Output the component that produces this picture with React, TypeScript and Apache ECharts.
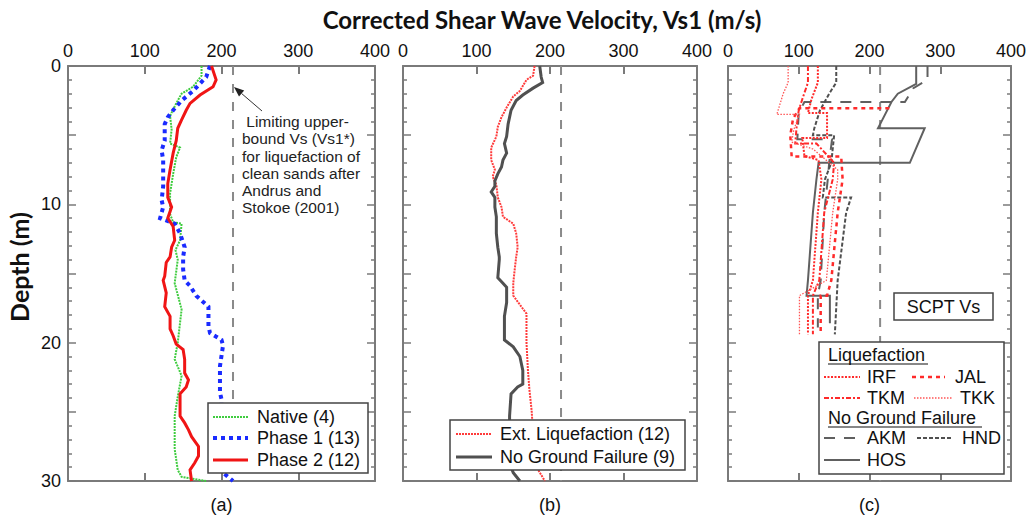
import React, { useEffect, useRef } from 'react';
import * as echarts from 'echarts';

// ---------- data ----------
const X_MIN = 0;
const X_MAX = 400;
const X_STEP = 100;
const DEPTH_MIN = 0;
const DEPTH_MAX = 30;
const DEPTH_STEP = 5;
const LIMIT_VS = 215; // limiting upper-bound Vs1*

// panel (a): [Vs1 (m/s), depth (m)]
const NATIVE: number[][] = [[174,0],[174,0.7],[163,1.5],[148,2.0],[141,2.7],[133,3.6],[135,4.6],[133,5.6],[146,5.9],[141,6.6],[137,7.8],[133,9.2],[133,10.7],[137,11.3],[148,11.4],[146,12.6],[140,13.3],[143,14.0],[139,15.7],[148,17.6],[143,20.0],[139,21.2],[148,22.4],[143,23.9],[139,25.3],[139,27.7],[143,29.2],[148,29.7],[180,30]];
const PHASE1: number[][] = [[185,0],[180,0.8],[163,1.8],[148,2.5],[137,3.2],[130,3.7],[126,4.2],[126,5.4],[122,6.1],[124,6.8],[124,8.7],[122,9.7],[124,10.2],[120,11.0],[139,11.4],[146,12.1],[152,13.1],[150,13.8],[150,14.7],[152,15.5],[159,15.9],[167,16.6],[183,17.4],[183,18.8],[185,19.3],[200,19.8],[202,20.2],[198,21.7],[198,23.6],[200,24.1],[200,28.4],[202,29.4],[215,30]];
const PHASE2: number[][] = [[187,0],[193,1.0],[189,1.5],[172,2.1],[159,2.7],[154,3.2],[148,3.9],[143,4.5],[141,5.4],[137,6.3],[133,7.5],[130,8.5],[130,9.5],[135,10.2],[130,11.0],[137,11.6],[139,12.6],[135,13.1],[133,13.8],[128,14.2],[126,15.2],[124,15.5],[128,16.4],[126,17.4],[133,18.1],[133,19.0],[137,19.5],[141,20.1],[150,20.5],[152,21.2],[152,22.2],[157,22.7],[154,23.2],[146,23.7],[146,25.3],[152,25.8],[157,26.3],[161,26.8],[170,27.5],[170,28.2],[165,28.7],[159,29.2],[161,30]];

// panel (b)
const EXT_LIQ: number[][] = [[179,0],[177,0.7],[168,1.0],[159,1.8],[150,2.2],[141,3.0],[134,3.7],[129,4.4],[127,5.1],[120,5.9],[120,6.8],[125,7.5],[122,8.0],[127,8.6],[129,9.5],[134,10.2],[136,10.9],[150,11.4],[154,12.1],[156,13.1],[154,13.8],[152,14.7],[150,15.7],[150,16.6],[161,17.4],[168,17.9],[168,20.0],[170,22.0],[172,23.4],[175,24.9],[177,26.6],[179,28.2],[184,29.2],[193,30]];
const NO_GF: number[][] = [[186,0],[188,0.8],[190,1.2],[177,1.6],[163,2.1],[154,2.5],[147,3.2],[143,4.2],[141,5.1],[138,5.6],[141,6.3],[136,6.8],[134,7.3],[129,7.8],[125,8.3],[125,8.7],[120,9.1],[125,9.5],[125,10.2],[127,10.9],[127,12.1],[129,13.1],[131,13.8],[131,14.0],[129,15.3],[136,15.7],[141,16.0],[141,17.1],[138,18.1],[138,19.8],[150,20.3],[159,21.0],[163,22.0],[163,23.0],[156,23.2],[147,23.7],[145,25.3],[145,28.7],[150,29.4],[159,30]];

// panel (c) SCPT profiles
const HOS: number[][] = [[266,0],[266,1.3],[240,2.0],[231,2.6],[217,4.0],[212,4.5],[278,4.5],[257,7.0],[128,7.0],[125,8.2],[120,10.6],[113,15.5],[111,16.6],[144,16.6],[144,18.6]];
const AKM: number[][] = [[282,0],[282,1.0],[262,1.6],[250,2.6],[108,2.6],[100,3.4],[98,5.3],[147,5.3],[143,7.0],[141,8.2],[136,10.6],[131,15.5],[127,16.6],[127,18.9]];
const HND: number[][] = [[153,0],[153,1.2],[143,2.0],[130,3.2],[122,4.5],[120,5.0],[150,5.0],[146,7.0],[137,8.2],[134,9.5],[174,9.5],[167,10.6],[155,15.5],[151,19.4]];
const IRF: number[][] = [[127,0],[127,1.2],[118,2.4],[113,3.4],[140,3.4],[140,5.2],[105,5.2],[108,6.5],[128,6.8],[132,8.2],[127,10.6],[120,15.5],[113,16.6],[113,19.4]];
const JAL: number[][] = [[228,3.05],[101,3.05],[92,3.8],[88,5.0],[90,6.55],[160,6.55],[162,8.2],[155,10.6],[146,15.5],[140,16.6],[131,16.6],[131,19.4]];
const TKM: number[][] = [[113,0],[113,1.2],[105,2.4],[100,3.2],[97,4.4],[95,5.6],[125,5.6],[150,7.0],[148,8.2],[136,10.6],[129,15.5],[120,16.6],[120,19.4]];
const TKK: number[][] = [[85,0],[85,1.2],[78,2.0],[69,3.5],[101,3.5],[93,4.6],[90,5.5],[120,6.0],[155,7.5],[155,8.2],[148,10.6],[139,15.5],[101,16.6],[101,19.4]];

const TITLE = 'Corrected Shear Wave Velocity, Vs1 (m/s)';
const Y_NAME = 'Depth (m)';
const PANEL_LABELS = ['(a)', '(b)', '(c)'];
const NOTE_LINES = [' Limiting upper-', 'bound Vs (Vs1*)', 'for liquefaction of', 'clean sands after', 'Andrus and', 'Stokoe (2001)'];

// ---------- styles ----------
const FONT = '"Liberation Sans", Arial, sans-serif';
const BOLD_FONT = 'Lato, "Open Sans", sans-serif';
const AXIS_COLOR = '#7a7a7a';
const RED = '#ff2a2a';
const GRIDS = [
  { left: 68, top: 66, width: 307, height: 415 },
  { left: 403, top: 66, width: 294, height: 415 },
  { left: 728, top: 66, width: 283, height: 415 },
];

const STYLES: Record<string, any> = {
  native: { color: '#3fcc3f', width: 2, type: [2, 1] },
  phase1: { color: '#1a2bff', width: 4, type: [4, 4] },
  phase2: { color: '#f01515', width: 3, type: 'solid' },
  extliq: { color: '#ff3b3b', width: 2, type: [2, 1] },
  nogf: { color: '#505050', width: 3, type: 'solid' },
  limit: { color: '#8a8a8a', width: 2, type: [9, 9] },
  hos: { color: '#606060', width: 2, type: 'solid' },
  akm: { color: '#606060', width: 2, type: [11, 9] },
  hnd: { color: '#505050', width: 2, type: [4, 2] },
  irf: { color: RED, width: 2, type: [2, 1.5] },
  jal: { color: RED, width: 2.5, type: [4, 4] },
  tkm: { color: RED, width: 2, type: [5, 2, 2, 2] },
  tkk: { color: '#ff5555', width: 1.3, type: [1.5, 1.5] },
};

function lineSeries(name: string, data: number[][], grid: number, st: any, z = 2) {
  return {
    name,
    type: 'line',
    xAxisIndex: grid * 2,
    yAxisIndex: grid * 2,
    data,
    showSymbol: false,
    symbol: 'none',
    z,
    lineStyle: { color: st.color, width: st.width, type: st.type, cap: 'butt', join: 'miter' },
  };
}

function legLine(x1: number, x2: number, y: number, st: any) {
  return {
    type: 'line',
    z: 101,
    shape: { x1, y1: y, x2, y2: y },
    style: { stroke: st.color, lineWidth: st.width, lineDash: st.type === 'solid' ? null : st.type, lineCap: 'butt' },
  };
}

function legText(x: number, y: number, text: string, size = 18) {
  return {
    type: 'text',
    z: 101,
    x,
    y,
    style: { text, font: `${size}px ${FONT}`, fill: '#111', textAlign: 'left', textVerticalAlign: 'middle' },
  };
}

function box(x: number, y: number, w: number, h: number) {
  return {
    type: 'rect',
    z: 100,
    shape: { x, y, width: w, height: h },
    style: { fill: '#fff', stroke: '#444', lineWidth: 1.5 },
  };
}

export default function App() {
  const ref = useRef<HTMLDivElement>(null);

  useEffect(() => {
    document.body.style.margin = '0';
    if (!ref.current) return;
    const chart = echarts.init(ref.current, undefined, { renderer: 'svg' });

    const xAxis: any[] = [];
    const yAxis: any[] = [];
    GRIDS.forEach((_, i) => {
      const xBase = {
        type: 'value',
        gridIndex: i,
        min: X_MIN,
        max: X_MAX,
        interval: X_STEP,
        axisLine: { show: true, onZero: false, lineStyle: { color: AXIS_COLOR, width: 2 } },
        axisTick: { show: true, inside: true, length: 8, lineStyle: { color: AXIS_COLOR, width: 2 } },
        splitLine: { show: false },
      };
      xAxis.push({ ...xBase, position: 'top', axisLabel: { show: true, fontSize: 18, fontFamily: FONT, color: '#111', margin: 6 } });
      xAxis.push({ ...xBase, position: 'bottom', axisLabel: { show: false } });
      const yBase = {
        type: 'value',
        gridIndex: i,
        inverse: true,
        min: DEPTH_MIN,
        max: DEPTH_MAX,
        interval: DEPTH_STEP,
        axisLine: { show: true, onZero: false, lineStyle: { color: AXIS_COLOR, width: 2 } },
        axisTick: { show: true, inside: true, length: 8, lineStyle: { color: AXIS_COLOR, width: 1.5 } },
        minorTick: { show: true, splitNumber: 5, length: 4, lineStyle: { color: AXIS_COLOR, width: 1.5 } },
        splitLine: { show: false },
      };
      yAxis.push({
        ...yBase,
        position: 'left',
        axisLabel: {
          show: i === 0,
          fontSize: 18,
          fontFamily: FONT,
          color: '#111',
          margin: 7,
          formatter: (v: number) => (v % 10 === 0 ? String(v) : ''),
        },
      });
      yAxis.push({ ...yBase, position: 'right', axisLabel: { show: false } });
    });

    const limitData = [[LIMIT_VS, DEPTH_MIN], [LIMIT_VS, DEPTH_MAX]];

    const series: any[] = [
      lineSeries('limit-a', limitData, 0, STYLES.limit, 1),
      lineSeries('Native (4)', NATIVE, 0, STYLES.native),
      lineSeries('Phase 1 (13)', PHASE1, 0, STYLES.phase1),
      lineSeries('Phase 2 (12)', PHASE2, 0, STYLES.phase2, 3),
      lineSeries('limit-b', limitData, 1, STYLES.limit, 1),
      lineSeries('Ext. Liquefaction (12)', EXT_LIQ, 1, STYLES.extliq),
      lineSeries('No Ground Failure (9)', NO_GF, 1, STYLES.nogf, 3),
      lineSeries('limit-c', limitData, 2, STYLES.limit, 1),
      lineSeries('HOS', HOS, 2, STYLES.hos),
      lineSeries('AKM', AKM, 2, STYLES.akm),
      lineSeries('HND', HND, 2, STYLES.hnd),
      lineSeries('IRF', IRF, 2, STYLES.irf, 3),
      lineSeries('JAL', JAL, 2, STYLES.jal, 3),
      lineSeries('TKM', TKM, 2, STYLES.tkm, 3),
      lineSeries('TKK', TKK, 2, STYLES.tkk, 3),
    ];

    // arrowhead geometry for annotation
    const tip = [234, 87];
    const tail = [262, 111];
    const dx = tip[0] - tail[0];
    const dy = tip[1] - tail[1];
    const len = Math.hypot(dx, dy);
    const ux = dx / len;
    const uy = dy / len;
    const bx = tip[0] - ux * 10;
    const by = tip[1] - uy * 10;
    const px = -uy * 4;
    const py = ux * 4;

    const graphic: any[] = [
      {
        type: 'text', z: 100, x: 542, y: 19,
        style: { text: TITLE, font: `bold 24px ${BOLD_FONT}`, fill: '#111', textAlign: 'center', textVerticalAlign: 'middle' },
      },
      {
        type: 'text', z: 100, x: 19, y: 267, rotation: Math.PI / 2,
        style: { text: Y_NAME, font: `bold 25px ${BOLD_FONT}`, fill: '#111', textAlign: 'center', textVerticalAlign: 'middle' },
      },
      ...PANEL_LABELS.map((t, i) => ({
        type: 'text', z: 100, x: GRIDS[i].left + GRIDS[i].width / 2, y: 505,
        style: { text: t, font: `18px ${FONT}`, fill: '#111', textAlign: 'center', textVerticalAlign: 'middle' },
      })),
      // annotation
      {
        type: 'text', z: 100, x: 242, y: 113,
        style: { text: NOTE_LINES.join('\n'), font: `15.5px ${FONT}`, lineHeight: 17.2, fill: '#222', textAlign: 'left', textVerticalAlign: 'top' },
      },
      { type: 'line', z: 100, shape: { x1: tail[0], y1: tail[1], x2: bx, y2: by }, style: { stroke: '#333', lineWidth: 1 } },
      { type: 'polygon', z: 100, shape: { points: [tip, [bx + px, by + py], [bx - px, by - py]] }, style: { fill: '#222' } },

      // legend (a)
      box(208, 403, 160, 70),
      legLine(213, 248, 417, STYLES.native),
      legText(257, 417, 'Native (4)'),
      legLine(213, 248, 438, STYLES.phase1),
      legText(257, 438, 'Phase 1 (13)'),
      legLine(213, 248, 460, STYLES.phase2),
      legText(257, 460, 'Phase 2 (12)'),

      // legend (b)
      box(450, 420, 235, 50),
      legLine(456, 492, 434, STYLES.extliq),
      legText(500, 434, 'Ext. Liquefaction (12)'),
      legLine(456, 492, 457, STYLES.nogf),
      legText(500, 457, 'No Ground Failure (9)'),

      // SCPT label (c)
      box(894, 293, 99, 27),
      {
        type: 'text', z: 101, x: 943.5, y: 307,
        style: { text: 'SCPT Vs', font: `18px ${FONT}`, fill: '#111', textAlign: 'center', textVerticalAlign: 'middle' },
      },

      // legend (c)
      box(819, 342, 185, 132),
      legText(828, 355, 'Liquefaction'),
      { type: 'line', z: 101, shape: { x1: 828, y1: 364, x2: 928, y2: 364 }, style: { stroke: '#111', lineWidth: 1.2 } },
      legLine(824, 860, 377, STYLES.irf),
      legText(867, 377, 'IRF'),
      legLine(912, 945, 377, STYLES.jal),
      legText(955, 377, 'JAL'),
      legLine(824, 860, 398, STYLES.tkm),
      legText(867, 398, 'TKM'),
      legLine(914, 952, 398, STYLES.tkk),
      legText(960, 398, 'TKK'),
      legText(828, 418, 'No Ground Failure'),
      { type: 'line', z: 101, shape: { x1: 828, y1: 427, x2: 982, y2: 427 }, style: { stroke: '#111', lineWidth: 1.2 } },
      legLine(824, 860, 438, STYLES.akm),
      legText(867, 438, 'AKM'),
      legLine(917, 952, 438, STYLES.hnd),
      legText(962, 438, 'HND'),
      legLine(824, 860, 460, STYLES.hos),
      legText(867, 460, 'HOS'),
    ];

    chart.setOption({
      animation: false,
      backgroundColor: '#fff',
      grid: GRIDS.map((g) => ({ ...g, containLabel: false })),
      xAxis,
      yAxis,
      series,
      graphic,
    });

    return () => chart.dispose();
  }, []);

  return <div ref={ref} style={{ width: 1035, height: 519 }} />;
}
